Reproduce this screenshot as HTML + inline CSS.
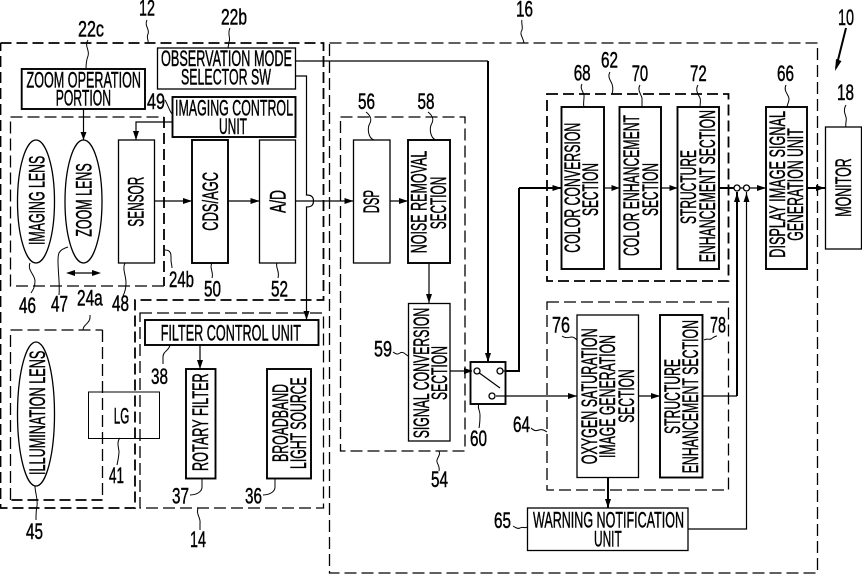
<!DOCTYPE html>
<html><head><meta charset="utf-8"><style>
html,body{margin:0;padding:0;background:#fff}
svg{display:block}
text{font-family:"Liberation Sans",sans-serif;font-size:22px;fill:#000;stroke:#000;stroke-width:.45px}
.b{fill:#fff;stroke:#000;stroke-width:1.3}
.t{fill:#fff;stroke:#000;stroke-width:1.9}
.d{fill:none;stroke:#000;stroke-width:1.3;stroke-dasharray:12 5}
.D{fill:none;stroke:#000;stroke-width:1.8;stroke-dasharray:11 5}
.l{fill:none;stroke:#000;stroke-width:1.2}
.L{fill:none;stroke:#000;stroke-width:2}
.q{fill:none;stroke:#000;stroke-width:1}
.a{fill:#000;stroke:none}
</style></head><body>
<svg width="862" height="574" viewBox="0 0 862 574" xmlns="http://www.w3.org/2000/svg">
<!-- outer dashed -->
<path class="D" d="M0.5 43H323.5V300H135V508H0.5V43"/>
<path class="d" d="M140 313H323.5V508H140Z"/>
<path class="d" d="M329.5 43H817.5V573H329.5Z"/>
<path class="d" d="M10.5 117H164"/><path class="D" d="M164 117V286"/><path class="d" d="M164 286H10.5V117"/>
<path class="d" d="M10.500 330H102.500"/><path class="d" d="M102.500 330V500"/><path class="D" d="M102.500 500H10.500"/><path class="d" d="M10.500 500V330"/>
<path class="d" d="M340.500 117H465V451H340.500Z"/>
<path class="D" d="M547 94H728.500V281H547Z"/>
<path class="d" d="M547 302H728.500V490H547Z"/>

<!-- connector lines -->
<path class="l" d="M295.500 61H488"/><path class="L" d="M488 61V361"/>
<path class="l" d="M295.500 76H306.500V195c6 0 7 3 7 6s-1 6-7 6V320"/>
<path class="l" d="M295.500 201H353.500"/>
<path class="l" d="M83.500 109V140"/>
<path class="l" d="M172.500 122H136V140"/>
<path class="l" d="M154.500 201H192"/><path class="l" d="M228 201H259.500"/>
<path class="l" d="M390 201H408"/><path class="l" d="M429 263V303"/>
<path class="L" d="M519 188V371H504"/><path class="L" d="M519 188H561.500"/>
<path class="l" d="M496 396H577"/>
<path class="l" d="M604 188H619.500"/><path class="l" d="M661 188H677.500"/>
<path class="L" d="M719 188H734"/><path class="l" d="M740 188H743M749.500 188H766"/>
<path class="L" d="M807 188H825"/>
<path class="L" d="M737 192V396"/><path class="l" d="M737 396H702"/>
<path class="l" d="M746.500 192V529H688"/>
<path class="l" d="M638 396H660"/>
<path class="L" d="M608 477V508"/>
<path class="l" d="M200 345V369"/>
<path class="l" d="M70 273H97"/>
<path class="L" d="M846 28L836 68"/>

<!-- arrowheads -->
<g class="a">
<path d="M83.500 140l-3 -8h6z"/><path d="M136 140l-3 -9h6z"/>
<path d="M192 201l-9 -3v6z"/><path d="M259.500 201l-9 -3v6z"/><path d="M353.500 201l-9 -3v6z"/><path d="M408 201l-9 -3v6z"/>
<path d="M306.500 320l-3 -9h6z"/><path d="M200 369l-3 -9h6z"/><path d="M429 303l-3 -9h6z"/>
<path d="M473 371l-9 -3v6z"/><path d="M488 362l-3 -9h6z"/>
<path d="M561.500 188l-9 -3v6z"/><path d="M619.500 188l-8 -3v6z"/><path d="M677.500 188l-8 -3v6z"/>
<path d="M766 188l-9 -3v6z"/><path d="M825 188l-9 -3v6z"/>
<path d="M577 396l-9 -3v6z"/><path d="M660 396l-9 -3v6z"/>
<path d="M608 508l-3 -9h6z"/>
<path d="M737 193l-3 9h6z"/><path d="M746.500 193l-3 9h6z"/>
<path d="M66 273l9 -3v6z"/><path d="M101 273l-9 -3v6z"/>
<path d="M835 71l1 -12 5.500 2z"/>
</g>

<!-- boxes -->
<rect class="t" x="21.700" y="69" width="123.300" height="40"/>
<rect class="b" x="157.500" y="48" width="138" height="41"/>
<rect class="t" x="172.500" y="97" width="123" height="40"/>
<ellipse class="b" cx="36" cy="201.500" rx="18.500" ry="61.500"/>
<ellipse class="b" cx="83.500" cy="201.500" rx="18.500" ry="61.500"/>
<rect class="b" x="118.500" y="140" width="36" height="123"/>
<rect class="t" x="192" y="140" width="36" height="123"/>
<rect class="b" x="259.500" y="140" width="36" height="123"/>
<ellipse class="b" cx="36" cy="414" rx="18.500" ry="72"/>
<rect x="88.500" y="392" width="71" height="46.500" fill="none" stroke="#000" stroke-width="1"/>
<rect class="t" x="145" y="320" width="173.500" height="25"/>
<rect class="t" x="186" y="369" width="29.500" height="109.500"/>
<rect class="t" x="267" y="369" width="44" height="109.500"/>
<rect class="b" x="353.500" y="140" width="36.500" height="123"/>
<rect class="t" x="408" y="140" width="42" height="123"/>
<rect class="b" x="408.500" y="303.500" width="41.500" height="137.500"/>
<rect class="t" x="470.500" y="362" width="35" height="42"/>
<rect class="t" x="561.500" y="107" width="42.500" height="162"/>
<rect class="t" x="619.500" y="107" width="41.500" height="162"/>
<rect class="t" x="677.500" y="107" width="41.500" height="162"/>
<rect class="t" x="766" y="107" width="41" height="162"/>
<rect class="b" x="825.500" y="127" width="36" height="122"/>
<rect class="b" x="577" y="315" width="61.500" height="162.500"/>
<rect class="t" x="660" y="315" width="42.500" height="162.500"/>
<rect class="b" x="527.500" y="508" width="160.500" height="42.500"/>

<!-- switch -->
<path class="l" d="M450 371H472M499 371H505M478 372L500 388"/>
<path class="l" d="M496 396H505"/>
<circle class="b" cx="477" cy="371" r="3"/><circle class="b" cx="500" cy="371" r="3"/><circle class="b" cx="492" cy="396" r="3"/>
<circle class="b" cx="737" cy="188" r="3"/><circle class="b" cx="746.500" cy="188" r="3"/>

<!-- leaders -->
<g class="q">
<path d="M147 20c-3 6 3 9 1 14c-2 4 1 6 0 9"/>
<path d="M88 40c-4 6 2 10 0 16c-2 5-2 9-2 13"/>
<path d="M230 28c-3 6 1 10-1 14l-1 6"/>
<path d="M165 100c3 5 4 10 7 14"/>
<path d="M165 250c7 0 6 6 6 10c0 3 1 5 1 8"/>
<path d="M212 263c-3 5 2 9 0 15"/>
<path d="M277 263c-2 4 3 8 1 15"/>
<path d="M30 263c-3 7 5 12 5 18c0 6-2 9-4 12"/>
<path d="M68 247c-10 3-10 7-10 14c0 12 2 22 1 34"/>
<path d="M125 263c-3 6 1 12 1 20c0 5-1 9-3 13"/>
<path d="M83 330c0-6 8-6 7-15"/>
<path d="M170 345c-1 6-7 6-7 12v7"/>
<path d="M202 478v9c0 5-6 8-12 8"/>
<path d="M275 478v9c0 5-6 8-12 8"/>
<path d="M120 438c-3 3-2 8-1 13c0 5-1 9-2 14"/>
<path d="M35 486c0 7 3 12 2 20c-1 4-1 9-1 14"/>
<path d="M198 508c-2 7 3 10 2 15l0 7"/>
<path d="M524 43c-1-6-5-9-2-13c1-3-1-8 0-10"/>
<path d="M366 112c4 3 6 7 4 11c-3 5-2 15 4 17"/>
<path d="M428 112c4 3 6 7 4 11c-3 5-2 15 4 17"/>
<path d="M582 84c-3 5 3 9 2 13c0 4-1 7 0 10"/>
<path d="M640 85c-3 5 1 9 2 13v9"/>
<path d="M698 85c-3 5 0 9 2 13c1 3 0 6 0 9"/>
<path d="M786 85c-3 6 3 10 3 14c0 3-2 6-2 8"/>
<path d="M610 72c-3 5 1 9 2 12c1 3 1 7 0 10"/>
<path d="M846 105c-3 5-1 9 0 12c1 3-1 7 0 10"/>
<path d="M393 352c3 2 4 3 7 1c3-2 5 1 8 3"/>
<path d="M479 404c-2 4 1 6 1 11c0 4 0 8-1 13"/>
<path d="M439 451c2 5-3 7-2 11c1 3 3 5 2 9"/>
<path d="M531 428c3 3 5 3 8 2c3-1 5 0 8 2"/>
<path d="M562 336c4 3 7 1 10 1c2 0 4 2 5 3"/>
<path d="M513 526c3 2 5 3 7 2c3-2 5 1 7-1"/>
<path d="M704 340c3-2 5 0 7-1c3-2 4-3 6-3"/>
</g>

<!-- horizontal text -->
<text x="26.500" y="87.300" textLength="114.500" lengthAdjust="spacingAndGlyphs">ZOOM OPERATION</text>
<text x="55.700" y="105.500" textLength="55.300" lengthAdjust="spacingAndGlyphs">PORTION</text>
<text x="161" y="66" textLength="131" lengthAdjust="spacingAndGlyphs">OBSERVATION MODE</text>
<text x="181" y="84.700" textLength="90" lengthAdjust="spacingAndGlyphs">SELECTOR SW</text>
<text x="175" y="115.700" textLength="118" lengthAdjust="spacingAndGlyphs">IMAGING CONTROL</text>
<text x="219" y="134" textLength="28" lengthAdjust="spacingAndGlyphs">UNIT</text>
<text x="160.700" y="340.700" textLength="140.300" lengthAdjust="spacingAndGlyphs">FILTER CONTROL UNIT</text>
<text x="113.700" y="423.300" textLength="15.600" lengthAdjust="spacingAndGlyphs">LG</text>
<text x="533" y="527.300" textLength="151" lengthAdjust="spacingAndGlyphs">WARNING NOTIFICATION</text>
<text x="594" y="546.700" textLength="27.700" lengthAdjust="spacingAndGlyphs">UNIT</text>

<!-- vertical text -->
<text transform="translate(44.300,245) rotate(-90)" textLength="89.300" lengthAdjust="spacingAndGlyphs">IMAGING LENS</text>
<text transform="translate(91.700,236.700) rotate(-90)" textLength="73.400" lengthAdjust="spacingAndGlyphs">ZOOM LENS</text>
<text transform="translate(143.300,226.700) rotate(-90)" textLength="50" lengthAdjust="spacingAndGlyphs">SENSOR</text>
<text transform="translate(218,230.700) rotate(-90)" textLength="58.700" lengthAdjust="spacingAndGlyphs">CDS/AGC</text>
<text transform="translate(285.700,213) rotate(-90)" textLength="23" lengthAdjust="spacingAndGlyphs">A/D</text>
<text transform="translate(208,471) rotate(-90)" textLength="97.700" lengthAdjust="spacingAndGlyphs">ROTARY FILTER</text>
<text transform="translate(288,462) rotate(-90)" textLength="78" lengthAdjust="spacingAndGlyphs">BROADBAND</text>
<text transform="translate(306,469) rotate(-90)" textLength="91.700" lengthAdjust="spacingAndGlyphs">LIGHT SOURCE</text>
<text transform="translate(45,475) rotate(-90)" textLength="124.300" lengthAdjust="spacingAndGlyphs">ILLUMINATION LENS</text>
<text transform="translate(379,213.300) rotate(-90)" textLength="23.300" lengthAdjust="spacingAndGlyphs">DSP</text>
<text transform="translate(426.500,253.300) rotate(-90)" textLength="102.600" lengthAdjust="spacingAndGlyphs">NOISE REMOVAL</text>
<text transform="translate(446,229.300) rotate(-90)" textLength="52.600" lengthAdjust="spacingAndGlyphs">SECTION</text>
<text transform="translate(580,252.700) rotate(-90)" textLength="130" lengthAdjust="spacingAndGlyphs">COLOR CONVERSION</text>
<text transform="translate(598,216) rotate(-90)" textLength="53" lengthAdjust="spacingAndGlyphs">SECTION</text>
<text transform="translate(429,438.300) rotate(-90)" textLength="130.600" lengthAdjust="spacingAndGlyphs">SIGNAL CONVERSION</text>
<text transform="translate(447,400) rotate(-90)" textLength="54" lengthAdjust="spacingAndGlyphs">SECTION</text>
<text transform="translate(597,464.300) rotate(-90)" textLength="136" lengthAdjust="spacingAndGlyphs">OXYGEN SATURATION</text>
<text transform="translate(615,458) rotate(-90)" textLength="123" lengthAdjust="spacingAndGlyphs">IMAGE GENERATION</text>
<text transform="translate(634,422.700) rotate(-90)" textLength="53.400" lengthAdjust="spacingAndGlyphs">SECTION</text>
<text transform="translate(639,256) rotate(-90)" textLength="141" lengthAdjust="spacingAndGlyphs">COLOR ENHANCEMENT</text>
<text transform="translate(658,216) rotate(-90)" textLength="53" lengthAdjust="spacingAndGlyphs">SECTION</text>
<text transform="translate(696,224) rotate(-90)" textLength="74" lengthAdjust="spacingAndGlyphs">STRUCTURE</text>
<text transform="translate(715,262.300) rotate(-90)" textLength="152.300" lengthAdjust="spacingAndGlyphs">ENHANCEMENT SECTION</text>
<text transform="translate(785,257.700) rotate(-90)" textLength="146.700" lengthAdjust="spacingAndGlyphs">DISPLAY IMAGE SIGNAL</text>
<text transform="translate(803,240.700) rotate(-90)" textLength="112.400" lengthAdjust="spacingAndGlyphs">GENERATION UNIT</text>
<text transform="translate(851,216.700) rotate(-90)" textLength="58.400" lengthAdjust="spacingAndGlyphs">MONITOR</text>
<text transform="translate(680,434) rotate(-90)" textLength="75" lengthAdjust="spacingAndGlyphs">STRUCTURE</text>
<text transform="translate(698,473.300) rotate(-90)" textLength="153.300" lengthAdjust="spacingAndGlyphs">ENHANCEMENT SECTION</text>

<!-- reference numerals -->
<text x="139" y="15.700" textLength="16" lengthAdjust="spacingAndGlyphs">12</text>
<text x="78" y="36.300" textLength="26" lengthAdjust="spacingAndGlyphs">22c</text>
<text x="221" y="24.300" textLength="26" lengthAdjust="spacingAndGlyphs">22b</text>
<text x="147" y="109" textLength="18" lengthAdjust="spacingAndGlyphs">49</text>
<text x="169" y="287" textLength="25" lengthAdjust="spacingAndGlyphs">24b</text>
<text x="204" y="296.700" textLength="17" lengthAdjust="spacingAndGlyphs">50</text>
<text x="271" y="296.700" textLength="17" lengthAdjust="spacingAndGlyphs">52</text>
<text x="19" y="313" textLength="17" lengthAdjust="spacingAndGlyphs">46</text>
<text x="51" y="311.700" textLength="17" lengthAdjust="spacingAndGlyphs">47</text>
<text x="112" y="311" textLength="17" lengthAdjust="spacingAndGlyphs">48</text>
<text x="77" y="305.700" textLength="25.700" lengthAdjust="spacingAndGlyphs">24a</text>
<text x="151" y="384" textLength="17" lengthAdjust="spacingAndGlyphs">38</text>
<text x="109" y="483" textLength="15" lengthAdjust="spacingAndGlyphs">41</text>
<text x="172" y="503.300" textLength="17" lengthAdjust="spacingAndGlyphs">37</text>
<text x="245" y="503.300" textLength="17" lengthAdjust="spacingAndGlyphs">36</text>
<text x="26" y="539" textLength="17" lengthAdjust="spacingAndGlyphs">45</text>
<text x="190" y="547" textLength="16" lengthAdjust="spacingAndGlyphs">14</text>
<text x="516" y="16.700" textLength="17" lengthAdjust="spacingAndGlyphs">16</text>
<text x="358" y="109" textLength="17" lengthAdjust="spacingAndGlyphs">56</text>
<text x="417.500" y="109" textLength="17" lengthAdjust="spacingAndGlyphs">58</text>
<text x="573.700" y="80.300" textLength="17" lengthAdjust="spacingAndGlyphs">68</text>
<text x="374" y="356.700" textLength="18" lengthAdjust="spacingAndGlyphs">59</text>
<text x="470" y="446" textLength="17" lengthAdjust="spacingAndGlyphs">60</text>
<text x="431" y="487" textLength="17" lengthAdjust="spacingAndGlyphs">54</text>
<text x="513" y="432" textLength="17" lengthAdjust="spacingAndGlyphs">64</text>
<text x="552" y="332.700" textLength="18" lengthAdjust="spacingAndGlyphs">76</text>
<text x="494" y="528" textLength="17" lengthAdjust="spacingAndGlyphs">65</text>
<text x="838" y="25" textLength="16" lengthAdjust="spacingAndGlyphs">10</text>
<text x="837" y="100" textLength="17" lengthAdjust="spacingAndGlyphs">18</text>
<text x="601" y="67.700" textLength="17" lengthAdjust="spacingAndGlyphs">62</text>
<text x="631.700" y="81" textLength="16.500" lengthAdjust="spacingAndGlyphs">70</text>
<text x="690" y="81" textLength="16.700" lengthAdjust="spacingAndGlyphs">72</text>
<text x="777" y="81" textLength="17" lengthAdjust="spacingAndGlyphs">66</text>
<text x="710" y="332.700" textLength="16" lengthAdjust="spacingAndGlyphs">78</text>
</svg>
</body></html>
